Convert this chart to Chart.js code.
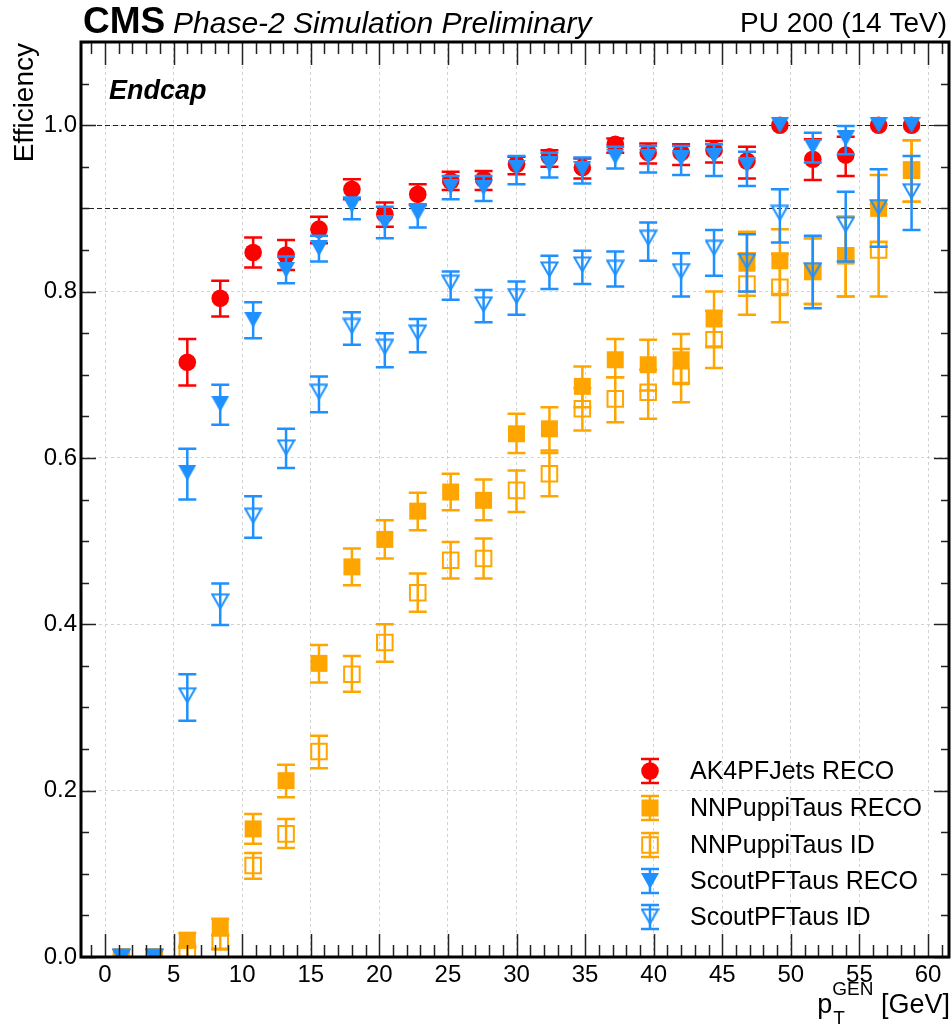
<!DOCTYPE html>
<html>
<head>
<meta charset="utf-8">
<title>Tau efficiency vs generated pT - Endcap</title>
<script src="https://cdn.jsdelivr.net/npm/chart.js@4.4.1/dist/chart.umd.min.js"></script>
<style>
  html, body { margin: 0; padding: 0; background: #fff; }
</style>
</head>
<body>
<canvas id="effChart" width="952" height="1027"></canvas>
<script>
// generated tau pT bins (2.4 GeV wide), centres
const ptBins = [1.2, 3.6, 6.0, 8.4, 10.8, 13.2, 15.6, 18.0, 20.4, 22.8, 25.2, 27.6, 30.0,
                32.4, 34.8, 37.2, 39.6, 42.0, 44.4, 46.8, 49.2, 51.6, 54.0, 56.4, 58.8];

// AK4PFJets RECO
const ak4Eff  = [0, 0, 0.715, 0.792, 0.847, 0.844, 0.875, 0.923, 0.893, 0.917, 0.933, 0.935, 0.953,
                 0.962, 0.949, 0.977, 0.967, 0.967, 0.970, 0.957, 1.0, 0.959, 0.964, 1.0, 1.0];
const ak4Low  = [0, 0, 0.687, 0.770, 0.829, 0.826, 0.858, 0.911, 0.878, 0.904, 0.922, 0.922, 0.941,
                 0.950, 0.936, 0.967, 0.954, 0.952, 0.955, 0.936, 1.0, 0.934, 0.939, 1.0, 1.0];
const ak4High = [0, 0, 0.743, 0.813, 0.865, 0.862, 0.890, 0.935, 0.907, 0.929, 0.944, 0.945, 0.962,
                 0.970, 0.960, 0.984, 0.978, 0.977, 0.981, 0.974, 1.0, 0.983, 0.986, 1.0, 1.0];

// NNPuppiTaus RECO
const nnRecoEff  = [0, 0, 0.020, 0.036, 0.154, 0.212, 0.353, 0.469, 0.502, 0.536, 0.559, 0.549, 0.629,
                    0.635, 0.686, 0.718, 0.712, 0.718, 0.767, 0.834, 0.837, 0.824, 0.843, 0.900, 0.946];
const nnRecoLow  = [0, 0, 0.012, 0.026, 0.136, 0.192, 0.330, 0.447, 0.479, 0.513, 0.537, 0.525, 0.606,
                    0.609, 0.661, 0.697, 0.681, 0.690, 0.734, 0.795, 0.797, 0.785, 0.794, 0.860, 0.908];
const nnRecoHigh = [0, 0, 0.029, 0.046, 0.172, 0.231, 0.375, 0.491, 0.525, 0.558, 0.581, 0.574, 0.653,
                    0.661, 0.710, 0.743, 0.742, 0.749, 0.800, 0.872, 0.875, 0.864, 0.890, 0.940, 0.982];

// NNPuppiTaus ID
const nnIdEff  = [0, 0, 0.006, 0.018, 0.110, 0.148, 0.247, 0.340, 0.378, 0.438, 0.477, 0.479, 0.561,
                  0.581, 0.659, 0.671, 0.679, 0.698, 0.742, 0.809, 0.805, 0.824, 0.843, 0.850, 0.946];
const nnIdLow  = [0, 0, 0, 0.010, 0.094, 0.131, 0.227, 0.319, 0.355, 0.415, 0.455, 0.455, 0.535,
                  0.554, 0.633, 0.643, 0.647, 0.667, 0.708, 0.772, 0.763, 0.785, 0.794, 0.794, 0.908];
const nnIdHigh = [0, 0, 0.012, 0.026, 0.125, 0.166, 0.266, 0.362, 0.400, 0.461, 0.499, 0.503, 0.585,
                  0.606, 0.684, 0.697, 0.706, 0.731, 0.777, 0.846, 0.845, 0.864, 0.890, 0.905, 0.982];

// ScoutPFTaus RECO
const scoutRecoEff  = [0, 0, 0.582, 0.665, 0.766, 0.826, 0.852, 0.904, 0.883, 0.894, 0.926, 0.925, 0.949,
                       0.953, 0.947, 0.962, 0.962, 0.960, 0.963, 0.952, 1.0, 0.974, 0.984, 1.0, 1.0];
const scoutRecoLow  = [0, 0, 0.550, 0.640, 0.744, 0.810, 0.836, 0.887, 0.864, 0.877, 0.911, 0.909, 0.929,
                       0.937, 0.930, 0.948, 0.943, 0.940, 0.939, 0.927, 1.0, 0.955, 0.965, 1.0, 1.0];
const scoutRecoHigh = [0, 0, 0.611, 0.688, 0.787, 0.842, 0.867, 0.913, 0.902, 0.905, 0.939, 0.939, 0.963,
                       0.967, 0.961, 0.974, 0.975, 0.975, 0.977, 0.968, 1.0, 0.991, 0.999, 1.0, 1.0];

// ScoutPFTaus ID
const scoutIdEff  = [0, 0, 0.314, 0.427, 0.530, 0.612, 0.679, 0.758, 0.733, 0.750, 0.810, 0.784, 0.794,
                     0.826, 0.832, 0.828, 0.864, 0.824, 0.852, 0.836, 0.894, 0.825, 0.880, 0.901, 0.920];
const scoutIdLow  = [0, 0, 0.284, 0.399, 0.504, 0.588, 0.655, 0.736, 0.709, 0.727, 0.790, 0.763, 0.772,
                     0.803, 0.809, 0.806, 0.837, 0.794, 0.819, 0.800, 0.859, 0.780, 0.836, 0.854, 0.874];
const scoutIdHigh = [0, 0, 0.340, 0.449, 0.554, 0.635, 0.698, 0.775, 0.750, 0.767, 0.824, 0.802, 0.812,
                     0.843, 0.849, 0.848, 0.883, 0.846, 0.874, 0.869, 0.923, 0.867, 0.920, 0.947, 0.963];

const seriesNames = ['AK4PFJets RECO', 'NNPuppiTaus RECO', 'NNPuppiTaus ID', 'ScoutPFTaus RECO', 'ScoutPFTaus ID'];
const xTickValues = [0, 5, 10, 15, 20, 25, 30, 35, 40, 45, 50, 55, 60];
const yTickValues = [0, 0.2, 0.4, 0.6, 0.8, 1.0];
const refLines = [1.0, 0.9];

const FONT = "'Liberation Sans', Arial, Helvetica, sans-serif";
const RED = '#ff0000', ORANGE = '#ffa500', BLUE = '#1e90ff';

function points(vals) {
  return ptBins.map((x, i) => ({ x: x, y: vals[i] }));
}

// downward triangles as small images, centred on their bounding box
function triangleSprite(color, open) {
  const c = document.createElement('canvas');
  c.width = open ? 19 : 18;
  c.height = open ? 18 : 16;
  const g = c.getContext('2d');
  g.beginPath();
  if (open) {
    g.moveTo(1.5, 1.5); g.lineTo(17.5, 1.5); g.lineTo(9.5, 15.5);
    g.closePath();
    g.lineWidth = 2;
    g.strokeStyle = color;
    g.stroke();
  } else {
    g.moveTo(0, 0); g.lineTo(18, 0); g.lineTo(9, 16);
    g.closePath();
    g.fillStyle = color;
    g.fill();
  }
  return c;
}
const triFull = triangleSprite(BLUE, false);
const triOpen = triangleSprite(BLUE, true);

// marker shapes for the legend box
function drawMarker(ctx, style, x, y, color, open) {
  if (style === 'triangle') {
    const img = open ? triOpen : triFull;
    ctx.drawImage(img, x - img.width / 2, y - img.height / 2);
    return;
  }
  ctx.beginPath();
  if (style === 'circle') {
    ctx.arc(x, y, 8.8, 0, Math.PI * 2);
  } else {
    const h = open ? 7.8 : 8.5;
    ctx.rect(x - h, y - h, 2 * h, 2 * h);
  }
  if (open) {
    ctx.lineWidth = 2;
    ctx.strokeStyle = color;
    ctx.stroke();
  } else {
    ctx.fillStyle = color;
    ctx.fill();
  }
}

function errorBar(ctx, px, y1, y2) {
  ctx.beginPath();
  ctx.moveTo(px, y1); ctx.lineTo(px, y2);
  ctx.moveTo(px - 9, y1); ctx.lineTo(px + 9, y1);
  ctx.moveTo(px - 9, y2); ctx.lineTo(px + 9, y2);
  ctx.stroke();
}

// vertical error bars, drawn just before each graph's markers
const errorBars = {
  id: 'errorBars',
  beforeDatasetDraw(chart, args) {
    const ds = chart.data.datasets[args.index];
    if (!ds.lo) return;
    const { ctx, chartArea: a, scales: { x, y } } = chart;
    ctx.save();
    ctx.beginPath();
    ctx.rect(a.left, a.top, a.right - a.left, a.bottom - a.top);
    ctx.clip();
    ctx.strokeStyle = ds.barColor;
    ctx.lineWidth = 2.5;
    ds.data.forEach((p, i) => {
      if (p.y == null || ds.hi[i] - ds.lo[i] <= 0) return;
      errorBar(ctx, x.getPixelForValue(p.x), y.getPixelForValue(ds.lo[i]), y.getPixelForValue(ds.hi[i]));
    });
    ctx.restore();
  }
};

// dashed reference lines
const refLinePlugin = {
  id: 'refLines',
  beforeDatasetsDraw(chart) {
    const { ctx, chartArea: a, scales: { y } } = chart;
    ctx.save();
    ctx.strokeStyle = '#222';
    ctx.lineWidth = 1.2;
    ctx.setLineDash([5, 3]);
    refLines.forEach(v => {
      const py = Math.round(y.getPixelForValue(v)) + 0.5;
      ctx.beginPath();
      ctx.moveTo(a.left, py);
      ctx.lineTo(a.right, py);
      ctx.stroke();
    });
    ctx.restore();
  }
};

// frame with inward ticks on all four sides
const framePlugin = {
  id: 'frame',
  afterDatasetsDraw(chart) {
    const { ctx, chartArea: a, scales: { x, y } } = chart;
    ctx.save();
    ctx.strokeStyle = '#222';
    ctx.lineWidth = 1.5;
    ctx.beginPath();
    for (let v = Math.ceil(x.min); v <= x.max; v++) {
      const px = Math.round(x.getPixelForValue(v)) + 0.5;
      const len = v % 5 === 0 ? 23 : 12;
      ctx.moveTo(px, a.bottom); ctx.lineTo(px, a.bottom - len);
      ctx.moveTo(px, a.top); ctx.lineTo(px, a.top + len);
    }
    for (let k = 0; k * 0.05 <= y.max + 1e-9; k++) {
      const py = Math.round(y.getPixelForValue(k * 0.05)) + 0.5;
      const len = k % 4 === 0 ? 15 : 8;
      ctx.moveTo(a.left, py); ctx.lineTo(a.left + len, py);
      ctx.moveTo(a.right, py); ctx.lineTo(a.right - len, py);
    }
    ctx.stroke();
    ctx.strokeStyle = '#000';
    ctx.lineWidth = 3;
    ctx.strokeRect(a.left, a.top, a.right - a.left, a.bottom - a.top);
    ctx.restore();
  }
};

// header, labels, axis titles and legend
const textPlugin = {
  id: 'texts',
  afterDraw(chart) {
    const ctx = chart.ctx;
    const a = chart.chartArea;
    ctx.save();
    ctx.fillStyle = '#000';
    ctx.textBaseline = 'alphabetic';

    ctx.textAlign = 'left';
    ctx.font = `bold 37px ${FONT}`;
    ctx.fillText('CMS', 83, 33);
    ctx.font = `italic 30px ${FONT}`;
    ctx.fillText('Phase-2 Simulation Preliminary', 173, 33);
    ctx.textAlign = 'right';
    ctx.font = `28px ${FONT}`;
    ctx.fillText('PU 200 (14 TeV)', 947, 32);

    ctx.textAlign = 'left';
    ctx.font = `italic bold 27px ${FONT}`;
    ctx.fillText('Endcap', 109, 99);

    // y title, top aligned with the frame
    ctx.save();
    ctx.translate(33, a.top + 1);
    ctx.rotate(-Math.PI / 2);
    ctx.textAlign = 'right';
    ctx.font = `28px ${FONT}`;
    ctx.fillText('Efficiency', 0, 0);
    ctx.restore();

    // x title: p_T^GEN [GeV]
    const right = a.right + 1;
    ctx.font = `27px ${FONT}`;
    const wUnit = ctx.measureText(' [GeV]').width;
    ctx.textAlign = 'right';
    ctx.fillText(' [GeV]', right, 1013);
    ctx.textAlign = 'left';
    ctx.font = `19px ${FONT}`;
    const wSup = ctx.measureText('GEN').width;
    const supX = right - wUnit - wSup;
    ctx.fillText('GEN', supX, 995);
    ctx.fillText('T', supX + 1, 1024);
    ctx.font = `27px ${FONT}`;
    const wP = ctx.measureText('p').width;
    ctx.fillText('p', supX - wP, 1013);

    // legend
    const markers = [
      ['circle', RED, false], ['rect', ORANGE, false], ['rect', ORANGE, true],
      ['triangle', BLUE, false], ['triangle', BLUE, true]
    ];
    const rowY = [771, 808, 845, 881, 917];
    ctx.font = `25px ${FONT}`;
    ctx.textBaseline = 'middle';
    seriesNames.forEach((name, i) => {
      const [style, color, open] = markers[i];
      const my = rowY[i];
      ctx.strokeStyle = color;
      ctx.lineWidth = 2.5;
      errorBar(ctx, 650, my - 12, my + 12);
      drawMarker(ctx, style, 650, my, color, open);
      ctx.fillStyle = '#000';
      ctx.fillText(name, 690, my + 1);
    });
    ctx.restore();
  }
};

function series(label, vals, lo, hi, style, color, open, radius, order) {
  return {
    label: label,
    data: points(vals),
    lo: lo,
    hi: hi,
    barColor: color,
    showLine: false,
    clip: 0,
    order: order,
    pointStyle: style,
    pointRadius: radius,
    pointHoverRadius: radius,
    pointBackgroundColor: open ? 'rgba(0,0,0,0)' : color,
    pointBorderColor: color,
    pointBorderWidth: open ? 2 : 0
  };
}

const gridOpts = { color: '#d2d2d2', lineWidth: 1, drawTicks: false };
const borderOpts = { display: false, dash: [3, 3] };

new Chart(document.getElementById('effChart').getContext('2d'), {
  type: 'scatter',
  data: {
    datasets: [
      series(seriesNames[0], ak4Eff, ak4Low, ak4High, 'circle', RED, false, 8.8, 5),
      series(seriesNames[1], nnRecoEff, nnRecoLow, nnRecoHigh, 'rect', ORANGE, false, 12, 4),
      series(seriesNames[2], nnIdEff, nnIdLow, nnIdHigh, 'rect', ORANGE, true, 11, 3),
      series(seriesNames[3], scoutRecoEff, scoutRecoLow, scoutRecoHigh, triFull, BLUE, false, 10, 2),
      series(seriesNames[4], scoutIdEff, scoutIdLow, scoutIdHigh, triOpen, BLUE, true, 10, 1)
    ]
  },
  options: {
    responsive: false,
    devicePixelRatio: 1,
    animation: false,
    events: [],
    layout: { autoPadding: false, padding: { left: 0, right: 3, top: 42, bottom: 0 } },
    plugins: { legend: { display: false }, tooltip: { enabled: false } },
    scales: {
      x: {
        type: 'linear',
        min: -1.75,
        max: 61.53,
        afterBuildTicks: s => { s.ticks = xTickValues.map(v => ({ value: v })); },
        afterFit: s => { s.height = 70; },
        ticks: { callback: v => String(v), font: { family: FONT, size: 24 }, color: '#000', padding: 4, maxRotation: 0 },
        grid: gridOpts,
        border: borderOpts
      },
      y: {
        type: 'linear',
        min: 0,
        max: 1.1,
        afterBuildTicks: s => { s.ticks = yTickValues.map(v => ({ value: v })); },
        afterFit: s => { s.width = 81; },
        ticks: { callback: v => v.toFixed(1), font: { family: FONT, size: 24 }, color: '#000', padding: 4 },
        grid: gridOpts,
        border: borderOpts
      }
    }
  },
  plugins: [refLinePlugin, errorBars, framePlugin, textPlugin]
});
</script>
</body>
</html>
